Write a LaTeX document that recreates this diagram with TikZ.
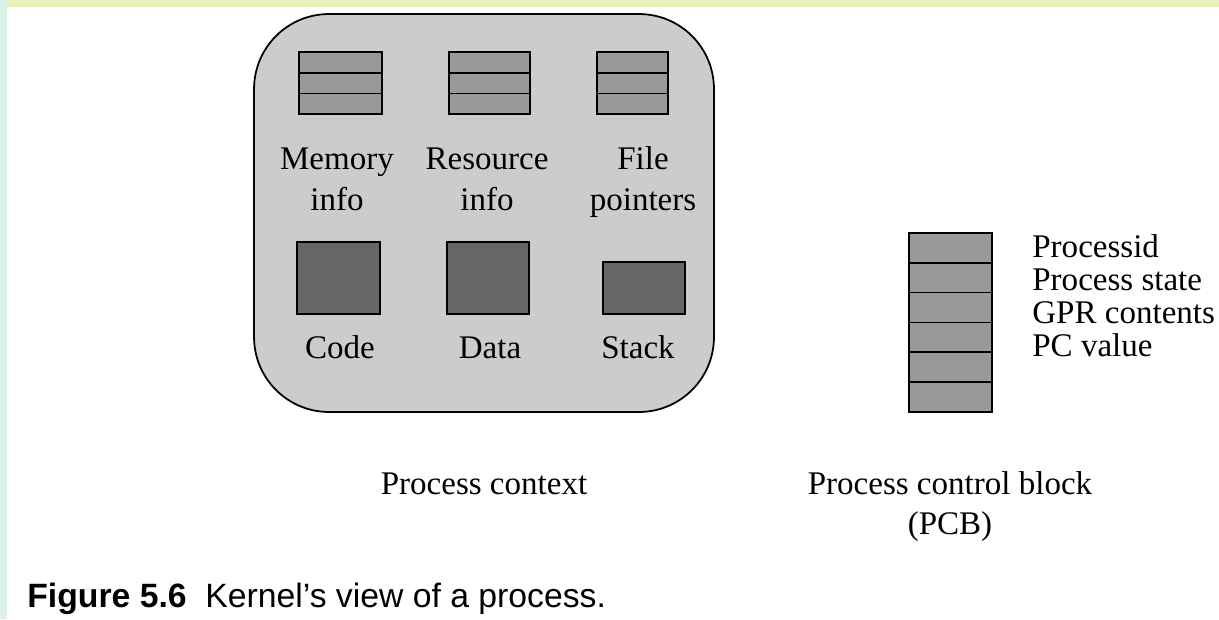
\documentclass[tikz,border=0pt]{standalone}
\usepackage{fontspec}
\setmainfont{Liberation Serif}
\newfontfamily\capfont{Liberation Sans}
\usetikzlibrary{positioning}

\definecolor{ctxgray}{HTML}{CCCCCC}
\definecolor{cellgray}{HTML}{999999}
\definecolor{blockgray}{HTML}{666666}
\definecolor{slidetop}{HTML}{E8F1BC}
\definecolor{slideleft}{HTML}{DDF2E6}

\begin{document}
\begin{tikzpicture}[x=0.02cm, y=-0.02cm,
  lbl/.style={font=\fontsize{18.8}{22}\selectfont, inner sep=0pt, anchor=base},
  pcblbl/.style={lbl, anchor=base west},
  cell/.style={draw, fill=cellgray, line width=1pt},
  block/.style={draw, fill=blockgray, line width=1pt, inner sep=0pt},
  ctxbox/.style={draw, fill=ctxgray, line width=1pt, rounded corners=1.5cm, inner sep=0pt},
  caption/.style={font=\fontsize{19.2}{22}\selectfont\capfont, inner sep=0pt, anchor=base west}]

\useasboundingbox (0,0) rectangle (1219,619);
\fill[white] (0,0) rectangle (1219,619);
\fill[slidetop] (0,0) rectangle (1219,7);
\fill[slideleft] (0,0) rectangle (7,619);

%%    PROCESS CONTEXT    %%
\node[ctxbox, minimum width=9.2cm, minimum height=7.96cm] (ctx) at (484,213) {};

\foreach \xa/\xb in {299/382, 449/530, 597/668}
  \foreach \k in {0,1,2}
    \draw[cell] (\xa,{52+20.7*\k}) rectangle (\xb,{72.7+20.7*\k});

\node[lbl] (memA) at (337,169) {Memory};
\node[lbl] (memB) at (337,210) {info};
\node[lbl] (resA) at (487,169) {Resource};
\node[lbl] (resB) at (487,210) {info};
\node[lbl] (filA) at (643,169) {File};
\node[lbl] (filB) at (643,210) {pointers};

\node[block, minimum width=1.66cm, minimum height=1.44cm] (code) at (338.5,278) {};
\node[block, minimum width=1.64cm, minimum height=1.44cm] (data) at (488,278) {};
\node[block, minimum width=1.64cm, minimum height=1.04cm] (stack) at (644,288) {};

\node[lbl] (codelbl) at (340,358) {Code};
\node[lbl] (datalbl) at (490,358) {Data};
\node[lbl] (stacklbl) at (638,358) {Stack};

\node[lbl] (ctxname) at (484,494) {Process context};

%%    PCB    %%
\foreach \k in {0,...,5}
  \draw[cell] (909,{233+29.8*\k}) rectangle (992,{262.8+29.8*\k});

\node[pcblbl] (pid) at (1032,257) {Processid};
\node[pcblbl] (pstate) at (1032,290) {Process state};
\node[pcblbl] (gpr) at (1032,323) {GPR contents};
\node[pcblbl] (pcval) at (1032,356) {PC value};

\node[lbl] (pcbname) at (950,494) {Process control block};
\node[lbl] (pcbabbr) at (950,534) {(PCB)};

%%    CAPTION    %%
\node[caption] (figno) at (27,607) {\bfseries Figure 5.6};
\node[caption, base right=0.36cm of figno] (figtxt) {Kernel’s view of a process.};

\end{tikzpicture}
\end{document}
